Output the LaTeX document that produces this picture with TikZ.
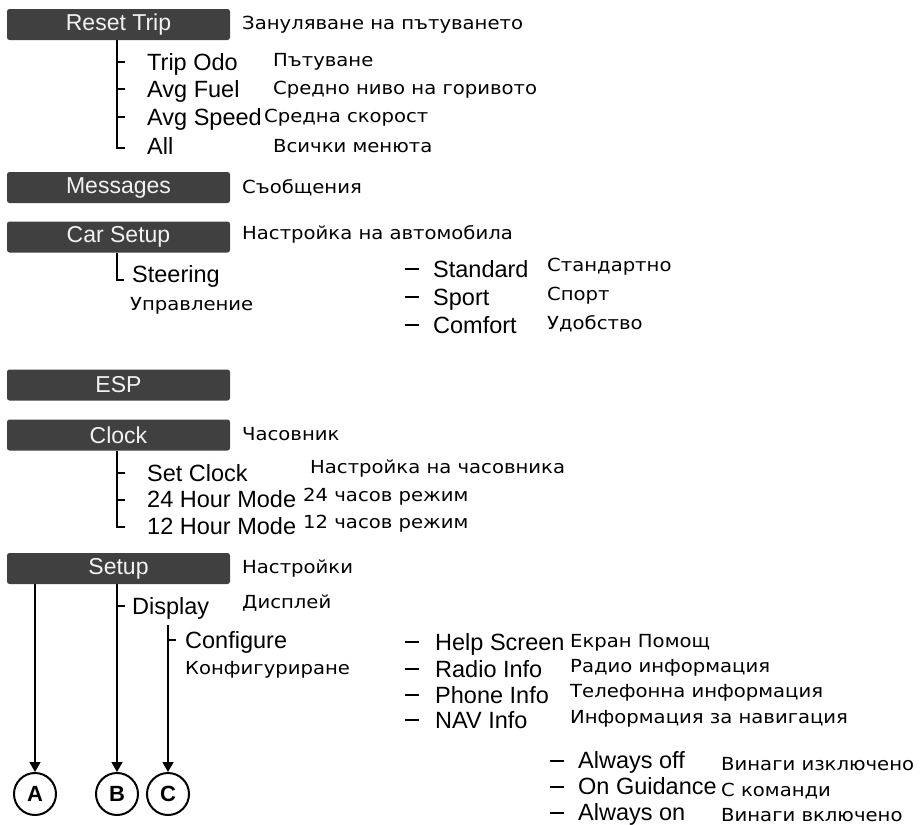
\documentclass[tikz,border=0pt]{standalone}
\usepackage{fontspec}
\setmainfont{Liberation Sans}
\newfontfamily\cyr[FakeStretch=1.09]{DejaVu Sans}
\usetikzlibrary{arrows.meta}
\definecolor{boxgray}{HTML}{404040}
\begin{document}
\begin{tikzpicture}[x=1pt,y=-1pt,
 menubox/.style={fill=boxgray, rounded corners=2.5pt, minimum width=223pt, minimum height=31pt, inner sep=0pt, text=white!95!black, font=\fontsize{23}{25}\selectfont},
 en/.style={anchor=base west, inner sep=0pt, font=\fontsize{23.5}{25}\selectfont},
 ru/.style={anchor=base west, inner sep=0pt, font=\cyr\fontsize{18}{20}\selectfont},
 tree/.style={line width=1.3pt},
 circ/.style={circle, draw, fill=white, line width=2pt, minimum size=42pt, inner sep=0pt, font=\bfseries\fontsize{22}{24}\selectfont},
 arr/.style={line width=1.3pt, -{Triangle[length=10pt,width=11pt]}}]
\useasboundingbox (0,0) rectangle (922,825);

% ---- Reset Trip
\node[menubox] (rt) at (118.5,24.5) {Reset Trip};
\node[ru] (rtr) at (242,29) {Зануляване на пътуването};
\node[en] (odo) at (147,70) {Trip Odo};
\node[ru] (odor) at (273,66) {Пътуване};
\node[en] (fuel) at (147,97) {Avg Fuel};
\node[ru] (fuelr) at (273,94) {Средно ниво на горивото};
\node[en] (spd) at (147,125) {Avg Speed};
\node[ru] (spdr) at (264,122) {Средна скорост};
\node[en] (all) at (147,154) {All};
\node[ru] (allr) at (273,152) {Всички менюта};
\coordinate (t1) at (117,0);
\draw[tree] (t1 |- rt.south) -- (117,148) -- (125,148);
\draw[tree] (117,62) -- (125,62);
\draw[tree] (117,89) -- (125,89);
\draw[tree] (117,117) -- (125,117);

% ---- Messages
\node[menubox] (ms) at (118.5,187.5) {Messages};
\node[ru] (msr) at (242,193) {Съобщения};

% ---- Car Setup
\node[menubox] (cs) at (118.5,237) {Car Setup};
\node[ru] (csr) at (242,239) {Настройка на автомобила};
\node[en] (st) at (132,282) {Steering};
\node[ru] (str) at (130,310) {Управление};
\draw[tree] (t1 |- cs.south) -- (117,280) -- (124,280);
\node[en] (std) at (433,277) {Standard};
\node[ru] (stdr) at (547,271) {Стандартно};
\node[en] (spt) at (433,305) {Sport};
\node[ru] (sptr) at (547,300) {Спорт};
\node[en] (cmf) at (433,333) {Comfort};
\node[ru] (cmfr) at (547,329) {Удобство};
\draw[tree] (405,269) -- (419,269);
\draw[tree] (405,297) -- (419,297);
\draw[tree] (405,325) -- (419,325);

% ---- ESP
\node[menubox] (esp) at (118.5,385) {ESP};

% ---- Clock
\node[menubox] (cl) at (118.5,435) {Clock};
\node[ru] (clr) at (242,440) {Часовник};
\node[en] (sc) at (147,481) {Set Clock};
\node[ru] (scr) at (310,473) {Настройка на часовника};
\node[en] (h24) at (147,507) {24 Hour Mode};
\node[ru] (h24r) at (303,501) {24 часов режим};
\node[en] (h12) at (147,534) {12 Hour Mode};
\node[ru] (h12r) at (303,528) {12 часов режим};
\draw[tree] (t1 |- cl.south) -- (117,527) -- (125,527);
\draw[tree] (117,473) -- (125,473);
\draw[tree] (117,500) -- (125,500);

% ---- Setup
\node[menubox] (su) at (118.5,568.5) {Setup};
\node[ru] (sur) at (242,573) {Настройки};
\node[en] (dp) at (132,614) {Display};
\node[ru] (dpr) at (242,608) {Дисплей};
\node[en] (cf) at (185,648) {Configure};
\node[ru] (cfr) at (185,674) {Конфигуриране};
\node[en] (hs) at (435,650) {Help Screen};
\node[ru] (hsr) at (570,647) {Екран Помощ};
\node[en] (ri) at (435,677) {Radio Info};
\node[ru] (rir) at (570,672) {Радио информация};
\node[en] (pi) at (435,703) {Phone Info};
\node[ru] (pir) at (570,697) {Телефонна информация};
\node[en] (ni) at (435,728) {NAV Info};
\node[ru] (nir) at (570,723) {Информация за навигация};
\draw[tree] (405,642) -- (419,642);
\draw[tree] (405,669) -- (419,669);
\draw[tree] (405,695) -- (419,695);
\draw[tree] (405,720) -- (419,720);
\node[en] (ao) at (578,768) {Always off};
\node[ru] (aor) at (721,770) {Винаги изключено};
\node[en] (og) at (578,794) {On Guidance};
\node[ru] (ogr) at (721,796) {С команди};
\node[en] (an) at (578,820) {Always on};
\node[ru] (anr) at (721,821) {Винаги включено};
\draw[tree] (550,761) -- (564,761);
\draw[tree] (550,787) -- (564,787);
\draw[tree] (550,813) -- (564,813);

% circles and arrows
\node[circ] (ca) at (35,794) {A};
\node[circ] (cb) at (117,794) {B};
\node[circ] (cc) at (168,794) {C};
\draw[arr] (ca.north |- su.south) -- (ca.north);
\draw[arr] (cb.north |- su.south) -- (cb.north);
\coordinate (ctop) at (168,625);
\draw[arr] (ctop) -- (cc.north);
\draw[tree] (117,606) -- (125,606);
\draw[tree] (168,640) -- (176,640);
\end{tikzpicture}
\end{document}
